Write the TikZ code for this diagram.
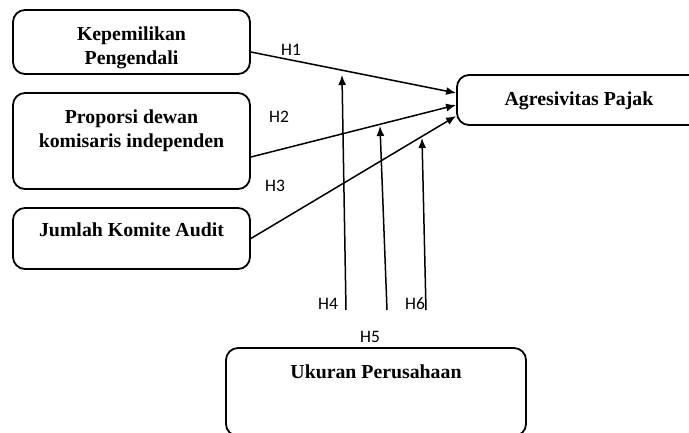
\documentclass[tikz,border=0pt]{standalone}
\usepackage{fontspec}
\setmainfont{Liberation Serif}
\newfontfamily\hfont{Carlito}
\usepackage{tikz}
\usetikzlibrary{arrows.meta,positioning}

\tikzset{
  kotak/.style={draw,rounded corners=12pt,line width=1.8pt,inner sep=0pt},
  judul/.style={inner sep=0pt,align=center,font=\fontsize{19.8}{24}\selectfont\bfseries},
  hipo/.style={inner sep=0pt,font=\hfont\fontsize{17.5}{20}\selectfont},
  panah/.style={-{Latex[length=10pt,width=8pt]},line width=1.5pt}
}

\begin{document}
\begin{tikzpicture}[x=1pt,y=-1pt]
              \useasboundingbox(0,0)rectangle(689,432);
              % kotak variabel
              \node[kotak,minimum width=237,minimum height=64](kp)at(131.5,42){};
              \node[kotak,minimum width=237,minimum height=96](pdk)at(131.5,141){};
              \node[kotak,minimum width=237,minimum height=61](jka)at(131.5,238.5){};
              \node[kotak,minimum width=244,minimum height=50](ap)at(579,100){};
              \node[kotak,minimum width=300,minimum height=88](up)at(376,392){};
              \node[judul,below=17pt of kp.north](kpt){Kepemilikan\\Pengendali};
              \node[judul,below=17pt of pdk.north](pdkt){Proporsi dewan\\komisaris independen};
              \node[judul,below=15pt of jka.north](jkat){Jumlah Komite Audit};
              \node[judul,below=17pt of ap.north](apt){Agresivitas Pajak};
              \node[judul,below=17pt of up.north](upt){Ukuran Perusahaan};
              % panah H1-H3
              \draw[panah]([shift={(0,10)}]kp.east)--([shift={(0,-7)}]ap.west);
              \draw[panah]([shift={(0,16)}]pdk.east)--([shift={(0,5)}]ap.west);
              \draw[panah](jka.east)--([shift={(0,16)}]ap.west);
              % panah H4-H6
              \coordinate(h4a)at(346,310);
              \coordinate(h4b)at(342,75);
              \coordinate(h5a)at(387,310);
              \coordinate(h5b)at(380,126);
              \coordinate(h6a)at(426,310);
              \coordinate(h6b)at(422,138);
              \draw[panah](h4a)--(h4b);
              \draw[panah](h5a)--(h5b);
              \draw[panah](h6a)--(h6b);
              % label
              \node[hipo](l1)at(291,50){H1};
              \node[hipo](l2)at(279,117){H2};
              \node[hipo](l3)at(275,186){H3};
              \node[hipo](l4)at(328,304){H4};
              \node[hipo](l5)at(370,337){H5};
              \node[hipo](l6)at(415,304){H6};
            \end{tikzpicture}
\end{document}
